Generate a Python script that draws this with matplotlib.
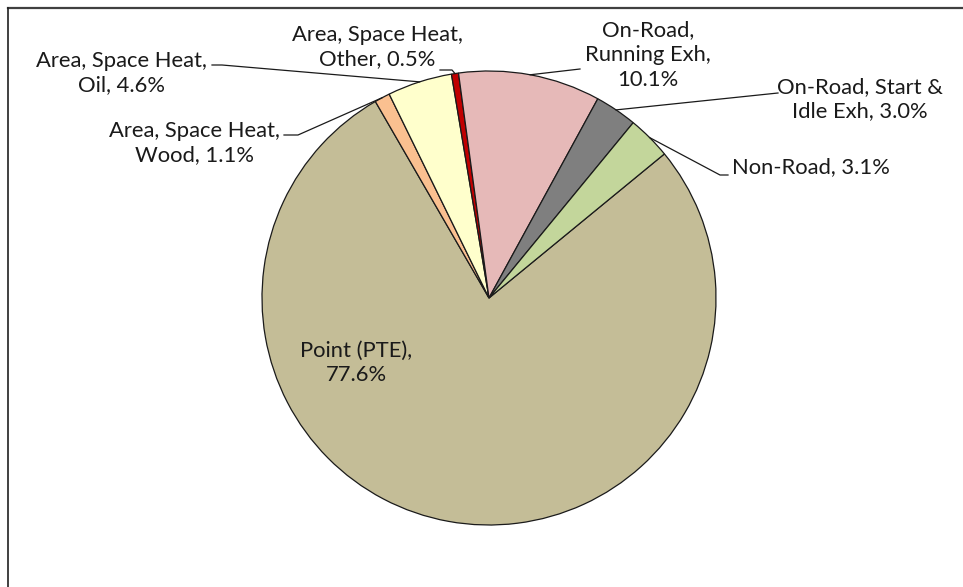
import numpy as np
import matplotlib
matplotlib.use("Agg")
import matplotlib.pyplot as plt
from matplotlib.lines import Line2D

# ---- data ----
categories = ["Point (PTE)", "Area, Space Heat,\nWood", "Area, Space Heat,\nOil",
              "Area, Space Heat,\nOther", "On-Road,\nRunning Exh", "On-Road, Start &\nIdle Exh",
              "Non-Road"]
values = [77.6, 1.1, 4.6, 0.5, 10.1, 3.0, 3.1]
label_texts = ["Point (PTE),\n77.6%", "Area, Space Heat,\nWood, 1.1%", "Area, Space Heat,\nOil, 4.6%",
               "Area, Space Heat,\nOther, 0.5%", "On-Road,\nRunning Exh,\n10.1%",
               "On-Road, Start &\nIdle Exh, 3.0%", "Non-Road, 3.1%"]
colors = ["#C4BD97", "#FAC090", "#FFFFCC", "#C00000", "#E6B9B8", "#7F7F7F", "#C3D69B"]

W, H = 963, 587
fig = plt.figure(figsize=(W / 100, H / 100), dpi=100)
ax = fig.add_axes([0, 0, 1, 1])

cx, cy, R = 489, H - 298, 227
wedges, _ = ax.pie(values, colors=colors, startangle=39.4, counterclock=False,
                   center=(cx, cy), radius=R, frame=True,
                   wedgeprops=dict(edgecolor="#1a1a1a", linewidth=0.9))
ax.set_xlim(0, W)
ax.set_ylim(0, H)
ax.set_aspect("equal")
ax.axis("off")

font = ["Lato", "DejaVu Sans"]
fs = 15.8
# label layout: (x, y in pixel from top, ha)
text_pos = [(356, 363, "center"), (194, 143, "center"), (121, 73, "center"),
            (377, 47, "center"), (648, 55, "center"), (860, 99, "center"),
            (811, 167, "center")]
# leader lines: list of points (pixel from top) before reaching wedge edge
leaders = [None, [(284, 135), (298, 135)], [(212, 65), (222, 65)],
           [(440, 70), (452, 70)], [(580, 69)], [(778, 93)],
           [(728, 175), (720, 175)]]

for i, w in enumerate(wedges):
    x, y, ha = text_pos[i]
    ax.text(x, H - y, label_texts[i], ha=ha, va="center", fontsize=fs,
            family=font, color="#1a1a1a", linespacing=1.3)
    if leaders[i] is not None:
        mid = np.deg2rad((w.theta1 + w.theta2) / 2)
        ex, ey = cx + R * np.cos(mid), cy + R * np.sin(mid)
        xs = [p[0] for p in leaders[i]] + [ex]
        ys = [H - p[1] for p in leaders[i]] + [ey]
        ax.plot(xs, ys, color="#1a1a1a", linewidth=0.9, zorder=5)

# chart frame (top and left borders)
fig.add_artist(Line2D([8 / W, 1], [1 - 7.5 / H, 1 - 7.5 / H], transform=fig.transFigure,
                      color="#404040", linewidth=1.6))
fig.add_artist(Line2D([8 / W, 8 / W], [0, 1 - 7.5 / H], transform=fig.transFigure,
                      color="#202020", linewidth=1.2))

fig.savefig("out.png", dpi=100)
